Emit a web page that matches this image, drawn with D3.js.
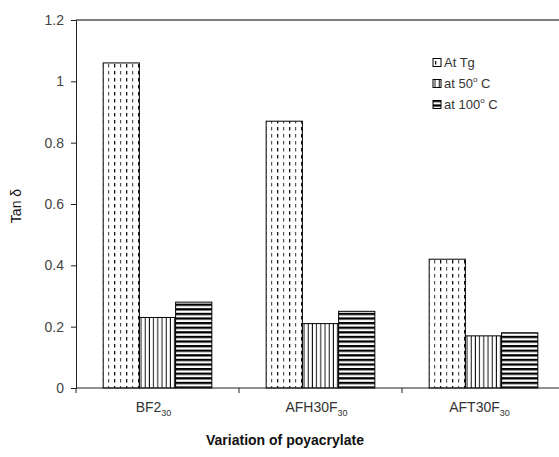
<!DOCTYPE html>
<html>
<head>
<meta charset="utf-8">
<script src="https://cdn.jsdelivr.net/npm/d3@7"></script>
<style>
  html, body { margin: 0; padding: 0; background: #fff; }
  svg { display: block; font-family: "Liberation Sans", Arial, sans-serif; }
</style>
</head>
<body>
<svg id="chart" width="559" height="457"></svg>
<script>
// Polyacrylate samples (label text before "_" is the main part, after it the subscript)
const categories = ["BF2_30", "AFH30F_30", "AFT30F_30"];
const seriesNames = ["At Tg", "at 50° C", "at 100° C"];
// tan δ values per series, in category order
const tanAtTg = [1.06, 0.87, 0.42];
const tanAt50 = [0.23, 0.21, 0.17];
const tanAt100 = [0.28, 0.25, 0.18];
const yTicks = [0, 0.2, 0.4, 0.6, 0.8, 1, 1.2];

const seriesValues = [tanAtTg, tanAt50, tanAt100];
const patternIds = ["pat-tg", "pat-50", "pat-100"];

const svg = d3.select("#chart");
const plotLeft = 76, plotRight = 565, plotTop = 20, plotBottom = 388;

// Fill patterns
const defs = svg.append("defs");
// dashed vertical columns, alternating dark and lighter
const pTg = defs.append("pattern").attr("id", "pat-tg")
  .attr("patternUnits", "userSpaceOnUse").attr("width", 12).attr("height", 7);
pTg.append("rect").attr("width", 12).attr("height", 7).attr("fill", "#fff");
pTg.append("rect").attr("x", 2).attr("y", 1).attr("width", 1.3).attr("height", 3.5).attr("fill", "#111");
pTg.append("rect").attr("x", 8).attr("y", 1).attr("width", 1.2).attr("height", 3.5).attr("fill", "#555");

// thin vertical lines
const p50 = defs.append("pattern").attr("id", "pat-50")
  .attr("patternUnits", "userSpaceOnUse").attr("width", 4.2).attr("height", 10);
p50.append("rect").attr("width", 4.2).attr("height", 10).attr("fill", "#fff");
p50.append("rect").attr("x", 1.5).attr("y", 0).attr("width", 1).attr("height", 10).attr("fill", "#111");

// heavy horizontal lines
const p100 = defs.append("pattern").attr("id", "pat-100")
  .attr("patternUnits", "userSpaceOnUse").attr("width", 10).attr("height", 4.6);
p100.append("rect").attr("width", 10).attr("height", 4.6).attr("fill", "#fff");
p100.append("rect").attr("x", 0).attr("y", 0).attr("width", 10).attr("height", 2.3).attr("fill", "#000");

// Scales
const x = d3.scaleBand().domain(categories).range([plotLeft, plotRight]).padding(0);
const inner = d3.scaleBand().domain(seriesNames)
  .range([x.bandwidth() / 6, x.bandwidth() * 5 / 6]).padding(0);
const y = d3.scaleLinear().domain([0, 1.2]).range([plotBottom, plotTop]);

// Top frame line
svg.append("line")
  .attr("x1", plotLeft).attr("x2", 559).attr("y1", y(1.2)).attr("y2", y(1.2))
  .attr("stroke", "#555").attr("stroke-width", 1.5);

// Bars
const groups = svg.append("g").selectAll("g")
  .data(categories)
  .join("g")
  .attr("transform", d => `translate(${x(d)},0)`);

groups.selectAll("rect")
  .data((c, ci) => seriesNames.map((s, si) => ({ s, si, v: seriesValues[si][ci] })))
  .join("rect")
  .attr("x", d => inner(d.s))
  .attr("y", d => y(d.v))
  .attr("width", inner.bandwidth())
  .attr("height", d => y(0) - y(d.v))
  .attr("fill", d => `url(#${patternIds[d.si]})`)
  .attr("stroke", "#000")
  .attr("stroke-width", 1);

// Y axis
const yAxis = svg.append("g")
  .attr("transform", `translate(${plotLeft},0)`)
  .call(d3.axisLeft(y).tickValues(yTicks).tickSize(5).tickPadding(7)
    .tickFormat(d3.format("~g")));
yAxis.select(".domain").attr("stroke", "#222");
yAxis.selectAll(".tick line").attr("stroke", "#222");
yAxis.selectAll("text")
  .attr("font-size", 14).attr("fill", "#444")
  .attr("font-family", "Liberation Sans, Arial, sans-serif");

// X axis baseline and category separators
svg.append("line")
  .attr("x1", plotLeft).attr("x2", 559).attr("y1", plotBottom).attr("y2", plotBottom)
  .attr("stroke", "#222").attr("stroke-width", 1);
svg.append("g").selectAll("line")
  .data(categories)
  .join("line")
  .attr("x1", d => x(d)).attr("x2", d => x(d))
  .attr("y1", plotBottom).attr("y2", plotBottom + 5)
  .attr("stroke", "#222");

// Category labels with subscript
const labels = svg.append("g").selectAll("text")
  .data(categories)
  .join("text")
  .attr("x", d => x(d) + x.bandwidth() / 2 - 4)
  .attr("y", plotBottom + 24)
  .attr("text-anchor", "middle")
  .attr("font-size", 14)
  .attr("fill", "#333");
labels.append("tspan").text(d => d.split("_")[0]);
labels.append("tspan").attr("font-size", 9).attr("dy", 4).text(d => d.split("_")[1]);

// Axis titles
svg.append("text")
  .attr("x", 285).attr("y", 445)
  .attr("text-anchor", "middle")
  .attr("font-size", 14).attr("font-weight", "bold").attr("fill", "#111")
  .text("Variation of poyacrylate");

svg.append("text")
  .attr("transform", "translate(21,206) rotate(-90)")
  .attr("text-anchor", "middle")
  .attr("font-size", 14).attr("fill", "#111")
  .text("Tan δ");

// Legend
const legend = svg.append("g").attr("transform", "translate(433,0)");
const legendRows = legend.selectAll("g")
  .data(seriesNames)
  .join("g")
  .attr("transform", (d, i) => `translate(0,${67 + i * 21})`);
legendRows.append("rect")
  .attr("x", 0).attr("y", -8.5).attr("width", 8).attr("height", 8)
  .attr("fill", (d, i) => `url(#${patternIds[i]})`)
  .attr("stroke", "#000").attr("stroke-width", 1);
const legendText = legendRows.append("text")
  .attr("x", 11).attr("y", 0)
  .attr("font-size", 13).attr("fill", "#333");
legendText.each(function (d) {
  const t = d3.select(this);
  const parts = d.split("°");
  t.append("tspan").text(parts[0]);
  if (parts.length > 1) {
    t.append("tspan").attr("font-size", 8).attr("dy", -6).text("o");
    t.append("tspan").attr("dy", 6).text(parts[1]);
  }
});
</script>
</body>
</html>
